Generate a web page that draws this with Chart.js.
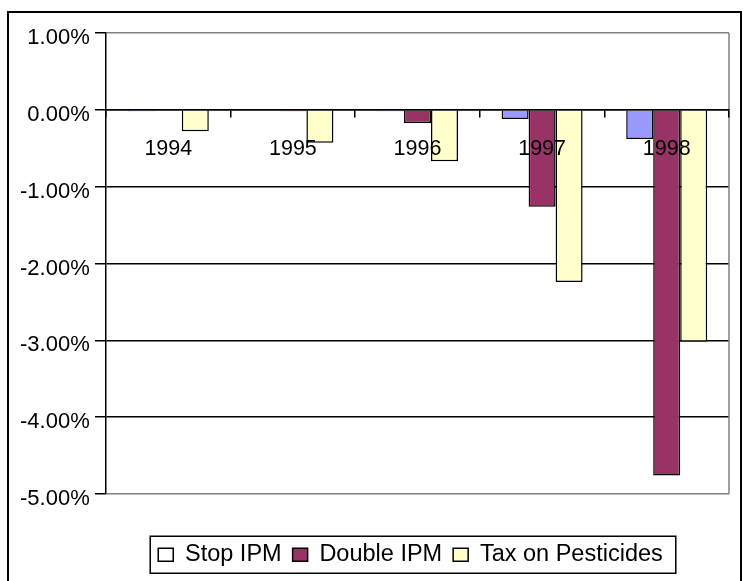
<!DOCTYPE html>
<html>
<head>
<meta charset="utf-8">
<script src="https://cdn.jsdelivr.net/npm/chart.js@4.4.1/dist/chart.umd.min.js"></script>
<style>
  body { margin: 0; background: #fff; }
  #frame { position: absolute; left: 7px; top: 11px; width: 731px; height: 600px; border: 2px solid #000; }
  #wrap { position: absolute; left: 0; top: 0; width: 743px; height: 581px; }
</style>
</head>
<body>
<div id="frame"></div>
<div id="wrap"><canvas id="chart"></canvas></div>
<script>
// values in percent
const years = ["1994", "1995", "1996", "1997", "1998"];
const stopIpm = [-0.02, 0.005, -0.02, -0.12, -0.38];
const doubleIpm = [0.005, -0.02, -0.17, -1.26, -4.76];
const taxPesticides = [-0.28, -0.43, -0.67, -2.24, -3.02];

const FONT = "'Liberation Sans', Arial, sans-serif";

// gray frame on the right of the plot, outline around the legend
const framePlugin = {
    id: "frame",
    beforeDatasetsDraw(chart) {
        const { ctx, chartArea } = chart;
        ctx.save();
        ctx.strokeStyle = "#808080";
        ctx.lineWidth = 1.5;
        ctx.beginPath();
        ctx.moveTo(chartArea.right, chartArea.top);
        ctx.lineTo(chartArea.right, chartArea.bottom);
        ctx.stroke();
        ctx.restore();
    },
    afterDraw(chart) {
        const boxes = chart.legend.legendHitBoxes;
        if (!boxes || !boxes.length) return;
        const first = boxes[0];
        const last = boxes[boxes.length - 1];
        const cy = first.top + first.height / 2;
        const ctx = chart.ctx;
        ctx.save();
        ctx.strokeStyle = "#000";
        ctx.lineWidth = 1.5;
        const x0 = first.left - 8;
        ctx.strokeRect(x0, cy - 18.5, last.left + last.width + 13 - x0, 37);
        ctx.restore();
    }
};

new Chart(document.getElementById("chart"), {
    type: "bar",
    data: {
        labels: years,
        datasets: [
            { label: "Stop IPM", data: stopIpm, backgroundColor: "#9999FF" },
            { label: "Double IPM", data: doubleIpm, backgroundColor: "#993366" },
            { label: "Tax on Pesticides", data: taxPesticides, backgroundColor: "#FFFFCC" }
        ]
    },
    options: {
        responsive: true,
        maintainAspectRatio: false,
        animation: false,
        layout: { padding: { left: 92, right: 14, top: 33, bottom: 4.5 } },
        datasets: {
            bar: {
                borderColor: "#000",
                borderWidth: 1.5,
                categoryPercentage: 0.65,
                barPercentage: 1
            }
        },
        scales: {
            x: {
                position: { y: 0 },
                grid: { offset: true, drawOnChartArea: false, tickLength: 7, color: "#000", lineWidth: 1.5, z: 1 },
                border: { color: "#000", width: 1.5, z: 1 },
                ticks: { color: "#000", font: { family: FONT, size: 21.5 }, padding: 19, maxRotation: 0, z: 1 }
            },
            y: {
                min: -5,
                max: 1,
                afterFit(scale) { scale.width = 14; },
                ticks: {
                    stepSize: 1,
                    color: "#000",
                    // labels sit left of the axis; mirror keeps them from being clipped to the narrow scale box
                    mirror: true,
                    crossAlign: "far",
                    padding: -86,
                    labelOffset: 5,
                    font: { family: FONT, size: 22 },
                    callback: (v) => v.toFixed(2) + "%"
                },
                grid: {
                    tickLength: 11,
                    tickColor: "#000",
                    color: (c) => (c.tick && (c.tick.value === 1 || c.tick.value === -5)) ? "#808080" : "#000",
                    lineWidth: 1.5
                },
                border: { color: "#000", width: 1.5 }
            }
        },
        plugins: {
            tooltip: { enabled: false },
            legend: {
                position: "bottom",
                title: { display: true, text: "", font: { size: 10 }, padding: { top: 26, bottom: 0 } },
                labels: {
                    color: "#000",
                    font: { family: FONT, size: 23.5 },
                    boxWidth: 15,
                    boxHeight: 13,
                    padding: 11,
                    generateLabels(chart) {
                        const items = Chart.defaults.plugins.legend.labels.generateLabels(chart);
                        // the first legend swatch is shown empty in the original
                        items[0].fillStyle = "#FFFFFF";
                        return items;
                    }
                }
            }
        }
    },
    plugins: [framePlugin]
});
</script>
</body>
</html>
